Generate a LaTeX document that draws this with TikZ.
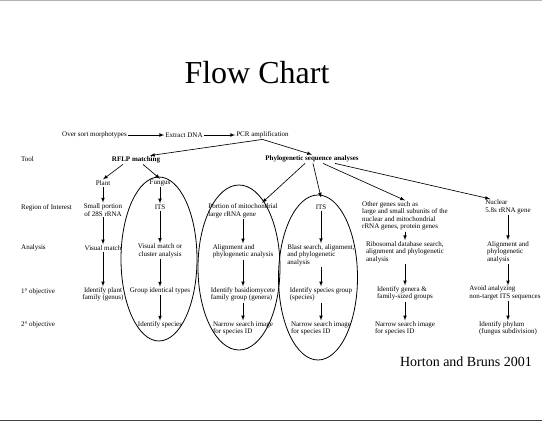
\documentclass[tikz,border=0pt]{standalone}
\usepackage{fontspec}
\setmainfont{Liberation Serif}
\usepackage{tikz}

\begin{document}
\begin{tikzpicture}[x=1pt,y=-1pt,
  txt/.style={font=\fontsize{7}{7.5}\selectfont, inner sep=1pt, align=left},
  ctxt/.style={txt, align=center},
  rowlbl/.style={txt, anchor=west},
  arr/.style={->, >=latex, line width=0.65pt},
  ring/.style={line width=0.8pt}]
\useasboundingbox (0,0) rectangle (542,424);
\draw[gray!60, line width=1.2pt] (0,0.6) -- (542,0.6);
\draw[black!75, line width=1.2pt] (0,420.5) -- (542,420.5);

\node[font=\fontsize{32}{36}\selectfont] (title) at (257,73) {Flow Chart};

% first steps
\node[txt] (sort) at (94.5,135) {Over sort morphotypes};
\node[txt] (dna) at (184,135) {Extract DNA};
\node[txt] (pcr) at (262.5,135) {PCR amplification};
\draw[arr] (sort) -- (dna);
\draw[arr] (dna) -- (pcr);

% row labels
\node[rowlbl] (rtool) at (20,159) {Tool};
\node[rowlbl] (rregion) at (20,208) {Region of Interest};
\node[rowlbl] (ranalysis) at (20,248) {Analysis};
\node[rowlbl] (rfirst) at (20,292) {1° objective};
\node[rowlbl] (rsecond) at (20,325) {2° objective};

% tools
\node[txt, font=\fontsize{7}{7.5}\selectfont\bfseries] (rflp) at (136,160) {RFLP matching};
\node[txt, font=\fontsize{7}{7.5}\selectfont\bfseries] (phylo) at (312,159) {Phylogenetic sequence analyses};
\draw[arr] (pcr.south) -- ([xshift=14pt]rflp.north);
\draw[arr] (pcr.south) -- (phylo.north);

% plant
\node[ctxt] (plant) at (103,183) {Plant};
\node[ctxt] (plreg) at (103,210) {Small portion\\of 28S rRNA};
\node[ctxt] (plana) at (103,248) {Visual match};
\node[ctxt] (plone) at (103,294.5) {Identify plant\\family (genus)};
\draw[arr] ([xshift=-13pt]rflp.south) -- (plant.north);
\draw[arr] (plant) -- (plreg);
\draw[arr] (plreg) -- (plana);
\draw[arr] (plana) -- (plone);

% fungus
\node[ctxt] (fungus) at (160,183) {Fungus};
\node[ctxt] (fureg) at (160,207) {ITS};
\node[ctxt] (fuana) at (160,251) {Visual match or\\cluster analysis};
\node[ctxt] (fuone) at (160,291) {Group identical types};
\node[ctxt] (futwo) at (160,325) {Identify species};
\draw[arr] ([xshift=7pt]rflp.south) -- (fungus.north);
\draw[arr] (fungus) -- (fureg);
\draw[arr] (fureg) -- (fuana);
\draw[arr] (fuana) -- (fuone);
\draw[arr] (fuone) -- (futwo);

% mitochondrial large rRNA
\node[txt] (mireg) at (243,211) {Portion of mitochondrial\\large rRNA gene};
\node[txt] (miana) at (243,251.5) {Alignment and\\phylogenetic analysis};
\node[txt] (mione) at (243,294.5) {Identify basidiomycete\\family group (genera)};
\node[txt] (mitwo) at (243,328.5) {Narrow search image\\for species ID};
\draw[arr] ([xshift=-7pt]phylo.south) -- ([xshift=19pt]mireg.north);
\draw[arr] (mireg) -- (miana);
\draw[arr] (miana) -- (mione);
\draw[arr] (mione) -- (mitwo);

% ITS
\node[ctxt] (itreg) at (321,207) {ITS};
\node[txt] (itana) at (321,255) {Blast search, alignment,\\and phylogenetic\\analysis};
\node[txt] (itone) at (321,294.5) {Identify species group\\(species)};
\node[txt] (ittwo) at (321,328.5) {Narrow search image\\for species ID};
\draw[arr] ([xshift=1pt]phylo.south) -- ([yshift=6pt]itreg.north);
\draw[arr] (itreg) -- (itana);
\draw[arr] (itana) -- (itone);
\draw[arr] (itone) -- (ittwo);

% other genes
\node[txt] (otreg) at (405,216) {Other genes such as\\large and small subunits of the\\nuclear and mitochondrial\\rRNA genes, protein genes};
\node[txt] (otana) at (405,252) {Ribosomal database search,\\alignment and phylogenetic\\analysis};
\node[txt] (otone) at (405,293.5) {Identify genera \&\\family-sized groups};
\node[txt] (ottwo) at (405,328.5) {Narrow search image\\for species ID};
\draw[arr] ([xshift=11pt]phylo.south) -- (otreg.north);
\draw[arr] (otreg) -- (otana);
\draw[arr] (otana) -- (otone);
\draw[arr] (otone) -- (ottwo);

% nuclear 5.8s
\node[txt] (nureg) at (508,207) {Nuclear\\5.8s rRNA gene};
\node[txt] (nuana) at (508,252) {Alignment and\\phylogenetic\\analysis};
\node[txt, inner sep=0.5pt] (nuone) at (505,293) {Avoid analyzing\\non-target ITS sequences};
\node[txt] (nutwo) at (508,328.5) {Identify phylum\\(fungus subdivision)};
\draw[arr] ([xshift=23pt]phylo.south) -- ([xshift=-18pt]nureg.north);
\draw[arr] (nureg) -- (nuana);
\draw[arr] (nuana.south) -- (nuana.south |- nuone.north);
\draw[arr] (nutwo.north |- nuone.south) -- (nutwo.north);

% groupings
\draw[ring] (159,259) ellipse [x radius=38pt, y radius=82pt];
\draw[ring] (239,267.5) ellipse [x radius=41pt, y radius=82.5pt];
\draw[ring] (318,277.5) ellipse [x radius=39.5pt, y radius=82.5pt];

\node[font=\fontsize{14}{16}\selectfont] (cite) at (466,362) {Horton and Bruns 2001};
\end{tikzpicture}
\end{document}
